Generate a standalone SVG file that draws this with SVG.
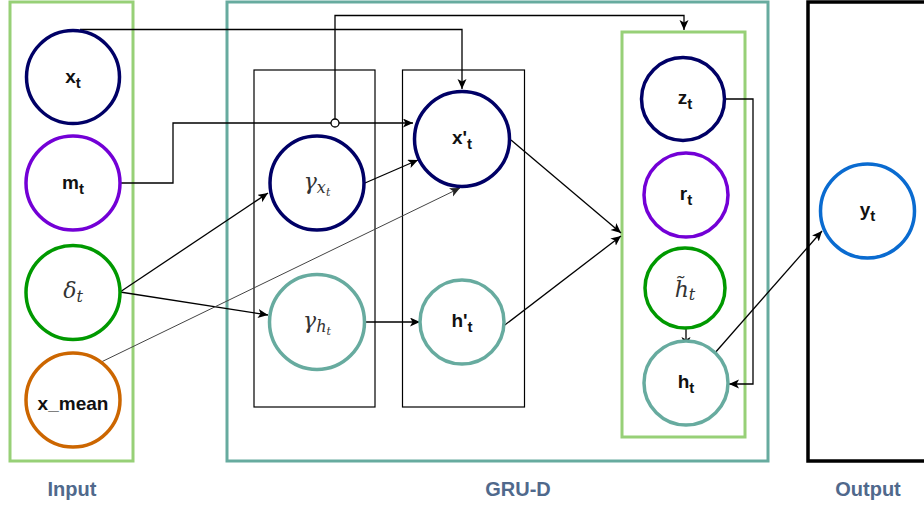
<svg xmlns="http://www.w3.org/2000/svg" width="924" height="508" viewBox="0 0 924 508">
<defs>
<marker id="arr" markerUnits="userSpaceOnUse" markerWidth="12" markerHeight="10" refX="10" refY="4.5" orient="auto">
<path d="M0,0 L10,4.5 L0,9 L2.5,4.5 Z" fill="#000"/>
</marker>
<marker id="arrg" markerUnits="userSpaceOnUse" markerWidth="12" markerHeight="10" refX="10" refY="4.5" orient="auto">
<path d="M0,0 L10,4.5 L0,9 L2.5,4.5 Z" fill="#222"/>
</marker>
<style>
.lbl{font-family:"Liberation Sans",Arial,sans-serif;font-weight:bold;font-size:19px;fill:#111;text-anchor:middle}
.math{font-family:"DejaVu Serif","Liberation Serif",serif;font-style:italic;font-size:22px;fill:#333;text-anchor:middle}
.cap{font-family:"Liberation Sans",Arial,sans-serif;font-weight:bold;font-size:20px;fill:#50698C;text-anchor:middle}
.node{fill:#fff;stroke-width:3.5}
.con{fill:none;stroke:#000;stroke-width:1.3}
</style>
</defs>

<g id="input-box"><rect x="10" y="2" width="123" height="459" fill="none" stroke="#97D077" stroke-width="3"/></g>
<g id="grud-box"><rect x="227" y="2" width="541" height="459" fill="none" stroke="#67AB9F" stroke-width="3"/></g>
<g id="output-box"><rect x="808" y="2" width="130" height="459" fill="none" stroke="#000" stroke-width="3.5"/></g>
<g id="gamma-box"><rect x="254" y="70" width="121" height="337" fill="none" stroke="#000" stroke-width="1.2"/></g>
<g id="prime-box"><rect x="402.5" y="70" width="122" height="337" fill="none" stroke="#000" stroke-width="1.2"/></g>
<g id="gate-box"><rect x="622" y="32" width="123" height="405" fill="none" stroke="#97D077" stroke-width="3"/></g>

<g id="connectors">
<path class="con" d="M80 29.5 H462 V89" marker-end="url(#arr)"/>
<path class="con" d="M121 183 H173 V123 H413" marker-end="url(#arr)"/>
<path class="con" d="M335 119 V15.5 H684 V30" marker-end="url(#arr)"/>
<circle cx="335" cy="123" r="4" fill="#fff" stroke="#000" stroke-width="1.3"/>
<path class="con" d="M120 292 L268 193" marker-end="url(#arr)"/>
<path class="con" d="M120 292 L268 315" marker-end="url(#arr)"/>
<path d="M95 365 L460 188" fill="none" stroke="#444" stroke-width="1" marker-end="url(#arrg)"/>
<path class="con" d="M365 183 L418 160" marker-end="url(#arr)"/>
<path class="con" d="M366 322 L420 322" marker-end="url(#arr)"/>
<path class="con" d="M511 140 L621 233" marker-end="url(#arr)"/>
<path class="con" d="M497 331 L621 236" marker-end="url(#arr)"/>
<path class="con" d="M726 99 H753 V384 H729" marker-end="url(#arr)"/>
<path class="con" d="M686 329 V347" marker-end="url(#arr)"/>
<path class="con" d="M714 354 L822 231" marker-end="url(#arr)"/>
</g>

<g id="x_t"><circle class="node" cx="73" cy="77" r="46.5" stroke="#000066"/><text class="lbl" x="73" y="83">x<tspan dy="5" font-size="15">t</tspan></text></g>
<g id="m_t"><circle class="node" cx="73" cy="183" r="47" stroke="#7300D6"/><text class="lbl" x="73" y="189">m<tspan dy="5" font-size="15">t</tspan></text></g>
<g id="delta_t"><circle class="node" cx="73" cy="292.5" r="47" stroke="#009900"/><text class="math" x="73" y="298">δ<tspan dy="4" font-size="16">t</tspan></text></g>
<g id="x_mean"><circle class="node" cx="73" cy="400" r="47" stroke="#CC6600"/><text class="lbl" x="73" y="410">x_mean</text></g>

<g id="gamma_x"><circle class="node" cx="317" cy="183" r="47" stroke="#000066"/><text class="math" x="317" y="189">γ<tspan dy="4" font-size="16">x</tspan><tspan dy="3" font-size="11">t</tspan></text></g>
<g id="gamma_h"><circle class="node" cx="317" cy="322" r="47.5" stroke="#67AB9F"/><text class="math" x="317" y="328">γ<tspan dy="4" font-size="16">h</tspan><tspan dy="3" font-size="11">t</tspan></text></g>
<g id="x_prime"><circle class="node" cx="462" cy="139" r="47.5" stroke="#000066"/><text class="lbl" x="462" y="144">x'<tspan dy="5" font-size="15">t</tspan></text></g>
<g id="h_prime"><circle class="node" cx="462" cy="322" r="42" stroke="#67AB9F"/><text class="lbl" x="462" y="327">h'<tspan dy="5" font-size="15">t</tspan></text></g>

<g id="z_t"><circle class="node" cx="683" cy="99" r="41.5" stroke="#000066"/><text class="lbl" x="685" y="104">z<tspan dy="5" font-size="15">t</tspan></text></g>
<g id="r_t"><circle class="node" cx="686" cy="195" r="42" stroke="#7300D6"/><text class="lbl" x="686" y="200">r<tspan dy="5" font-size="15">t</tspan></text></g>
<g id="h_tilde"><circle class="node" cx="685" cy="288" r="40" stroke="#009900"/><text class="math" x="685" y="297">h̃<tspan dy="3" font-size="16">t</tspan></text></g>
<g id="h_t"><circle class="node" cx="686" cy="383" r="42" stroke="#67AB9F"/><text class="lbl" x="686" y="388">h<tspan dy="5" font-size="15">t</tspan></text></g>

<g id="y_t"><circle class="node" cx="867.5" cy="211" r="47" stroke="#0A6BD0"/><text class="lbl" x="867.5" y="216">y<tspan dy="5" font-size="15">t</tspan></text></g>

<g id="captions">
<text class="cap" x="72" y="496">Input</text>
<text class="cap" x="518" y="496">GRU-D</text>
<text class="cap" x="868" y="496">Output</text>
</g>
</svg>
